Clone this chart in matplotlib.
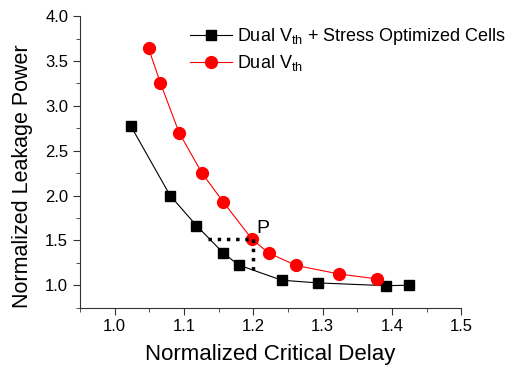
import numpy as np
import matplotlib.pyplot as plt
from matplotlib.ticker import MultipleLocator

plt.rcParams['font.family'] = ['Liberation Sans', 'DejaVu Sans']

# Dual Vth + stress optimized cells
delay_opt = [1.023, 1.08, 1.118, 1.157, 1.179, 1.241, 1.293, 1.391, 1.424]
leak_opt = [2.78, 2.0, 1.665, 1.357, 1.225, 1.056, 1.026, 0.995, 1.0]

# Dual Vth only
delay_dual = [1.049, 1.066, 1.093, 1.126, 1.157, 1.198, 1.222, 1.262, 1.324, 1.379]
leak_dual = [3.64, 3.255, 2.70, 2.25, 1.925, 1.515, 1.36, 1.22, 1.125, 1.07]

# point P and guide lines
p_x, p_y = 1.2, 1.515
h_start = 1.135
v_end = 1.165

fig = plt.figure(figsize=(5.13, 3.68), dpi=100)
ax = fig.add_axes([0.156, 0.164, 0.743, 0.792])

ax.plot(delay_opt, leak_opt, '-s', color='black', lw=0.8, ms=7,
        label='Dual V$_{\\mathregular{th}}$ + Stress Optimized Cells')
ax.plot(delay_dual, leak_dual, '-o', color='red', lw=0.8, ms=8.5,
        label='Dual V$_{\\mathregular{th}}$')

ax.plot([h_start, p_x], [p_y, p_y], ':', color='black', lw=2.5)
ax.plot([p_x, p_x], [p_y, v_end], ':', color='black', lw=2.5)
ax.text(p_x + 0.004, p_y + 0.02, 'P', fontsize=14, ha='left', va='bottom')

ax.set_xlim(0.95, 1.5)
ax.set_ylim(0.75, 4.0)
ax.xaxis.set_minor_locator(MultipleLocator(0.05))
ax.yaxis.set_minor_locator(MultipleLocator(0.25))
ax.set_xticks(np.arange(1.0, 1.51, 0.1))
ax.set_xticklabels(['1.0', '1.1', '1.2', '1.3', '1.4', '1.5'])
ax.set_yticks(np.arange(1.0, 4.01, 0.5))
ax.set_yticklabels(['1.0', '1.5', '2.0', '2.5', '3.0', '3.5', '4.0'])

for s in ['top', 'right']:
    ax.spines[s].set_visible(False)
for s in ['left', 'bottom']:
    ax.spines[s].set_color('#333333')
ax.tick_params(which='major', direction='out', length=5, labelsize=12, color='#333333')
ax.tick_params(which='minor', direction='out', length=3, color='#333333')

ax.set_xlabel('Normalized Critical Delay', fontsize=16, va='center')
ax.xaxis.set_label_coords(0.499, -0.162)
ax.set_ylabel('Normalized Leakage Power', fontsize=15.5, va='center')
ax.yaxis.set_label_coords(-0.152, 0.451)

ax.legend(loc='upper left', bbox_to_anchor=(0.289, 0.966), frameon=False,
          borderpad=0, borderaxespad=0,
          fontsize=13, handlelength=2.3, handletextpad=0.3, labelspacing=0.35)

fig.savefig('out.png', dpi=100)
